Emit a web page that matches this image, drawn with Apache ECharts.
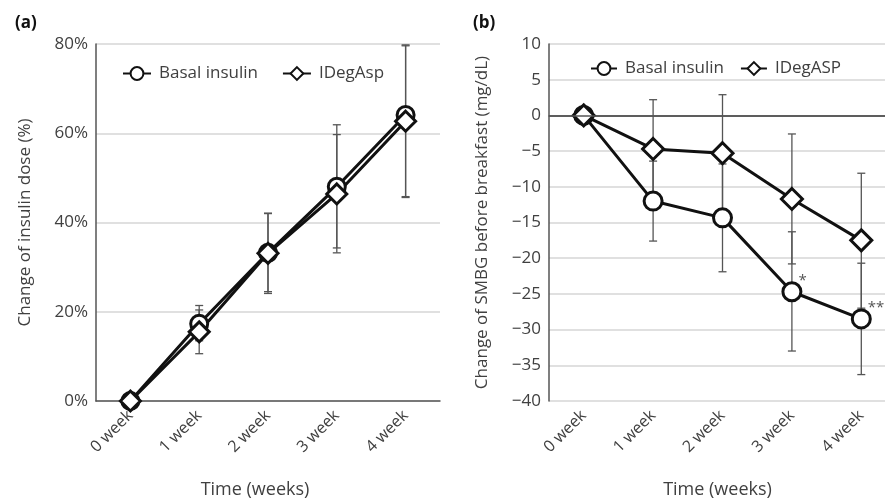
<!DOCTYPE html>
<html>
<head>
<meta charset="utf-8">
<script src="https://cdn.jsdelivr.net/npm/echarts@6/dist/echarts.min.js"></script>
<style>
  html, body { margin: 0; padding: 0; background: #fff; }
  #chart { width: 885px; height: 502px; }
</style>
</head>
<body>
<div id="chart"></div>
<script>
// 横轴类别
const weeks = ['0 week', '1 week', '2 week', '3 week', '4 week']

// (a) 胰岛素剂量变化 (%)
const doseBasal = [0, 17.3, 33.2, 48.0, 64.1]
const doseIdeg = [0, 15.5, 33.1, 46.4, 62.7]
const doseBasalLow = [0, 13.5, 24.5, 34.3, 45.6]
const doseBasalHigh = [0, 21.4, 42.1, 61.9, 79.8]
const doseIdegLow = [0, 10.6, 24.1, 33.2, 45.8]
const doseIdegHigh = [0, 20.4, 42.0, 59.7, 79.6]

// (b) 早餐前 SMBG 变化 (mg/dL)
const smbgBasal = [0, -12.0, -14.35, -24.7, -28.5]
const smbgIdeg = [0, -4.7, -5.3, -11.7, -17.5]
const smbgBasalLow = [0, -17.6, -21.9, -33.0, -36.3]
const smbgBasalHigh = [0, -6.4, -6.8, -16.3, -20.7]
const smbgIdegLow = [0, -11.6, -13.5, -20.8, -27.0]
const smbgIdegHigh = [0, 2.2, 2.9, -2.6, -8.1]
const smbgMarks = ['', '', '', '*', '**']

const textColor = '#404040'
const font = 'Open Sans'
const fs = 17

const myChart = echarts.init(document.getElementById('chart'))

// 误差线
function errorSeries(idx, low, high) {
  return {
    type: 'custom',
    xAxisIndex: idx,
    yAxisIndex: idx,
    z: 1,
    silent: true,
    data: weeks.map((w, i) => [i, low[i], high[i]]),
    renderItem(params, api) {
      const top = api.coord([api.value(0), api.value(2)])
      const bot = api.coord([api.value(0), api.value(1)])
      const cap = 4
      const style = { stroke: '#555', lineWidth: 1.3 }
      return {
        type: 'group',
        children: [
          { type: 'line', shape: { x1: top[0], y1: top[1], x2: bot[0], y2: bot[1] }, style },
          { type: 'line', shape: { x1: top[0] - cap, y1: top[1], x2: top[0] + cap, y2: top[1] }, style },
          { type: 'line', shape: { x1: bot[0] - cap, y1: bot[1], x2: bot[0] + cap, y2: bot[1] }, style }
        ]
      }
    }
  }
}

function lineSeries(idx, name, data, symbol, size) {
  return {
    name,
    type: 'line',
    xAxisIndex: idx,
    yAxisIndex: idx,
    z: 3,
    data,
    symbol,
    symbolSize: size,
    showAllSymbol: true,
    lineStyle: { color: '#111', width: 3 },
    itemStyle: { color: '#fff', borderColor: '#111', borderWidth: 3 },
    emphasis: { disabled: true }
  }
}

function xAxis(idx, shift) {
  return {
    type: 'category',
    gridIndex: idx,
    data: weeks,
    boundaryGap: true,
    name: 'Time (weeks)',
    nameLocation: 'middle',
    nameGap: 80,
    nameTextStyle: { color: textColor, fontSize: 18, fontFamily: font, padding: [0, shift, 0, 0] },
    axisLine: { lineStyle: { color: '#555', width: 1.5 } },
    axisTick: { show: false },
    axisLabel: { rotate: 45, margin: 12, color: textColor, fontSize: 16, fontFamily: font },
    splitLine: { show: false }
  }
}

const basalB = smbgBasal.map((v, i) => smbgMarks[i]
  ? { value: v, label: { show: true, formatter: smbgMarks[i], position: [17, -8], color: '#555', fontSize: 15, fontFamily: font } }
  : v)

const option = {
  animation: false,
  backgroundColor: '#fff',
  title: [
    { text: '(a)', left: 10, top: 10, textStyle: { fontSize: 17, fontWeight: 'bold', color: '#111', fontFamily: font } },
    { text: '(b)', left: 468, top: 10, textStyle: { fontSize: 17, fontWeight: 'bold', color: '#111', fontFamily: font } }
  ],
  legend: [
    {
      left: 117, top: 60, itemWidth: 28, itemHeight: 16, itemGap: 24,
      data: ['Basal insulin', 'IDegAsp'],
      textStyle: { color: textColor, fontSize: fs, fontFamily: font, padding: [0, 0, 0, 3] }
    },
    {
      left: 585, top: 55, itemWidth: 26, itemHeight: 16, itemGap: 16,
      data: ['Basal insulin', 'IDegASP'],
      textStyle: { color: textColor, fontSize: fs, fontFamily: font, padding: [0, 0, 0, 3] }
    }
  ],
  grid: [
    { left: 96, top: 44, width: 344, height: 357, outerBoundsMode: 'none' },
    { left: 549, top: 44, width: 347, height: 357, outerBoundsMode: 'none' }
  ],
  xAxis: [xAxis(0, 26), xAxis(1, 10)],
  yAxis: [
    {
      type: 'value',
      gridIndex: 0,
      min: 0,
      max: 80,
      interval: 20,
      name: 'Change of insulin dose (%)',
      nameLocation: 'middle',
      nameGap: 62,
      nameTextStyle: { color: textColor, fontSize: fs, fontFamily: font },
      axisLine: { show: true, lineStyle: { color: '#555', width: 1.5 } },
      axisTick: { show: false },
      axisLabel: { color: textColor, fontSize: fs, fontFamily: font, margin: 8, formatter: '{value}%' },
      splitLine: { lineStyle: { color: '#d6d6d6', width: 1.5 } }
    },
    {
      type: 'value',
      gridIndex: 1,
      min: -40,
      max: 10,
      interval: 5,
      name: 'Change of SMBG before breakfast (mg/dL)',
      nameLocation: 'middle',
      nameGap: 58,
      nameTextStyle: { color: textColor, fontSize: fs, fontFamily: font },
      axisLine: { show: true, lineStyle: { color: '#555', width: 1.5 } },
      axisTick: { show: false },
      axisLabel: {
        color: textColor, fontSize: fs, fontFamily: font, margin: 8,
        formatter: v => String(v).replace('-', '\u2212')
      },
      splitLine: { lineStyle: { color: '#d6d6d6', width: 1.5 } }
    }
  ],
  series: [
    errorSeries(0, doseBasalLow, doseBasalHigh),
    errorSeries(0, doseIdegLow, doseIdegHigh),
    lineSeries(0, 'Basal insulin', doseBasal, 'circle', 17),
    lineSeries(0, 'IDegAsp', doseIdeg, 'diamond', 20),
    errorSeries(1, smbgBasalLow, smbgBasalHigh),
    errorSeries(1, smbgIdegLow, smbgIdegHigh),
    Object.assign(lineSeries(1, 'Basal insulin', basalB, 'circle', 18), {
      markLine: {
        silent: true,
        symbol: 'none',
        label: { show: false },
        lineStyle: { color: '#555', width: 1.5, type: 'solid' },
        data: [{ yAxis: 0 }]
      }
    }),
    lineSeries(1, 'IDegASP', smbgIdeg, 'diamond', 21)
  ]
}

myChart.setOption(option)
</script>
</body>
</html>
